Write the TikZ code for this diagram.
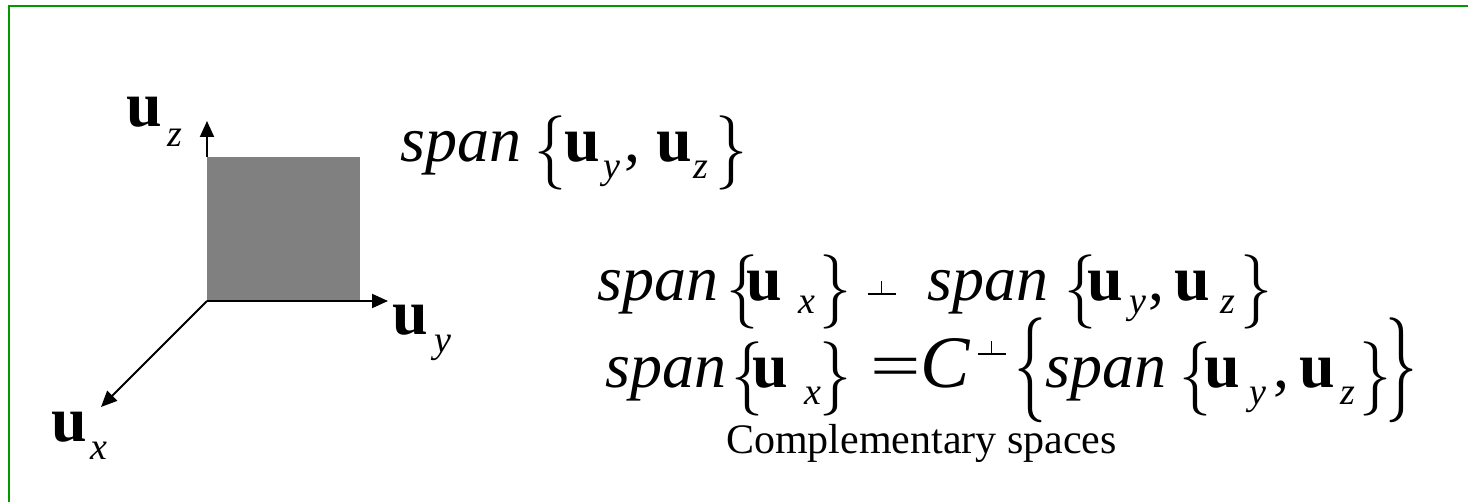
\documentclass[tikz,border=0pt]{standalone}
\usepackage{fontspec}
\usepackage{graphicx}
\setmainfont{Liberation Serif}
\newfontfamily\lmbrace{Latin Modern Roman}
\usetikzlibrary{arrows.meta}
\definecolor{framegreen}{RGB}{0,153,0}
\definecolor{planegray}{RGB}{128,128,128}
\newcommand\pc[2]{\rlap{\hskip#1pt\relax#2}}
\newcommand\myspan{\textit{span}}
\newcommand\bvu{\textbf{u}}
\newcommand\sbs[2][16]{\raisebox{-#1pt}{\fontsize{38}{38}\selectfont\textit{#2}}}
\newcommand\lbr{\raisebox{-10pt}{\scalebox{1}[1.16]{\lmbrace\{}}}
\newcommand\rbr{\raisebox{-10pt}{\scalebox{1}[1.16]{\lmbrace\}}}}
\newcommand\blbr{\raisebox{-9pt}{\scalebox{1}[1.64]{\lmbrace\{}}}
\newcommand\brbr{\raisebox{-9pt}{\scalebox{1}[1.64]{\lmbrace\}}}}
\newcommand\perpsym[1]{\raisebox{#1pt}{\rlap{\rule{28pt}{1.6pt}}\hskip13.2pt\rule{1.6pt}{14pt}}}
\tikzset{
  txt/.style={inner sep=0pt, outer sep=0pt, anchor=base west, font=\fontsize{64}{64}\selectfont},
  note/.style={inner sep=0pt, outer sep=0pt, anchor=base west, font=\fontsize{42}{42}\selectfont},
  axis/.style={line width=2pt, -{Triangle[length=16pt,width=14pt]}},
  frameline/.style={draw=framegreen, line width=2pt}
}
\begin{document}
\begin{tikzpicture}[x=1pt,y=-1pt]
\useasboundingbox (0,0) rectangle (1468,502);
% frame
\coordinate (fb) at (8.5,502);
\coordinate (fc) at (8.5,6.5);
\coordinate (fr) at (1468,6.5);
\draw[frameline] (fb) -- (fc) -- (fr);
% plane and axes
\coordinate (O) at (207,301);
\coordinate (rtl) at (207,157);
\coordinate (rbr) at (360,301);
\coordinate (tz) at (207,121);
\coordinate (ty) at (388,301);
\coordinate (tx) at (101,407);
\fill[planegray] (rtl) rectangle (rbr);
\draw[axis] (rtl) -- (tz);
\draw[axis] (O) -- (ty);
\draw[axis] (O) -- (tx);
% axis labels
\node[txt] (lz) at (126,127) {\pc{0}{\bvu}\pc{41}{\sbs[20]{z}}};
\node[txt] (ly) at (392,335) {\pc{0}{\bvu}\pc{42}{\sbs[18]{y}}};
\node[txt] (lx) at (51,442) {\pc{0}{\bvu}\pc{39}{\sbs[18]{x}}};
% row 1
\node[txt] (r1) at (400,162) {\pc{0}{\myspan}\pc{134}{\lbr}\pc{164}{\bvu}\pc{203}{\sbs[17]{y}}\pc{224}{,}\pc{256}{\bvu}\pc{293}{\sbs[17]{z}}\pc{315}{\rbr}};
% row 2
\node[txt] (r2) at (597,301) {\pc{0}{\myspan}\pc{129}{\lbr}\pc{149}{\bvu}\pc{201}{\sbs[13]{x}}\pc{222}{\rbr}\pc{270}{\perpsym{6}}\pc{330}{\myspan}\pc{467}{\lbr}\pc{490}{\bvu}\pc{532}{\sbs[13]{y}}\pc{551}{,}\pc{577}{\bvu}\pc{623}{\sbs[13]{z}}\pc{643}{\rbr}};
% row 3
\node[txt] (r3) at (605,388) {\pc{0}{\myspan}\pc{126}{\lbr}\pc{147}{\bvu}\pc{199}{\sbs[17]{x}}\pc{214}{\rbr}\pc{265}{\scalebox{1.4}[1]{=}}\pc{315}{{\fontsize{74}{74}\selectfont\textit{C}}}\pc{372}{\perpsym{33}}\pc{409}{\blbr}\pc{440}{\myspan}\pc{574}{\lbr}\pc{599}{\bvu}\pc{644}{\sbs[17]{y}}\pc{668}{,}\pc{694}{\bvu}\pc{735}{\sbs[17]{z}}\pc{754}{\rbr}\pc{780}{\brbr}};
% caption
\node[note] (cap) at (726,454) {Complementary spaces};
\end{tikzpicture}
\end{document}
